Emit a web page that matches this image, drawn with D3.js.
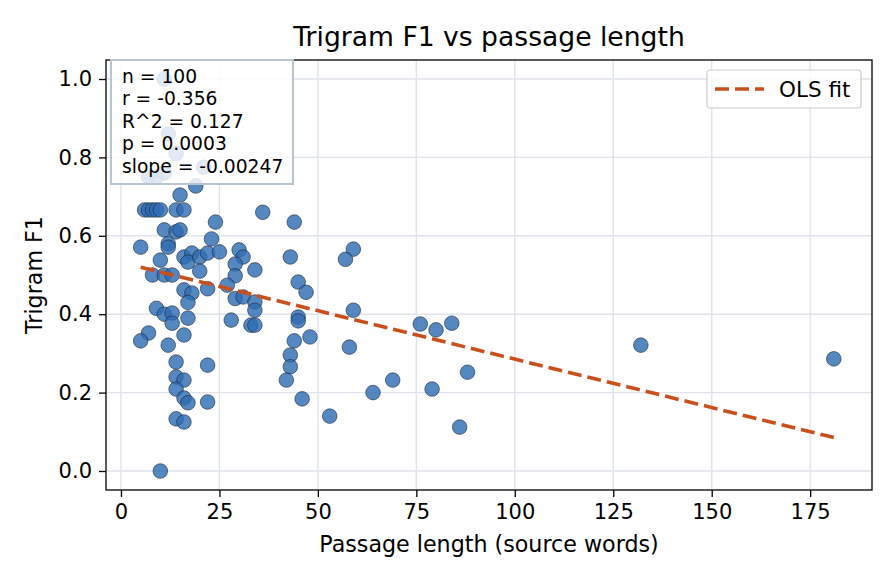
<!DOCTYPE html>
<html>
<head>
<meta charset="utf-8">
<script src="https://cdn.jsdelivr.net/npm/d3@7"></script>
<style>
  body { margin: 0; background: #fff; }
  svg { font-family: "DejaVu Sans", sans-serif; }
</style>
</head>
<body>
<script>
// passage length (source words) and trigram F1
var passageLen = [11, 12, 14, 21, 7, 9, 11, 19, 15,
    6, 7, 8, 9, 10, 14, 16, 36, 24, 44,
    11, 14, 15, 23, 5, 12, 12, 10, 16, 18,
    17, 20, 22, 25, 30, 31, 29, 29, 34, 43,
    20, 8, 11, 13, 16, 18, 22, 27, 29, 31,
    34, 34, 28, 33, 34, 9, 11, 13, 13, 17,
    17, 7, 5, 12, 16, 14, 22, 14, 16, 14,
    16, 17, 22, 14, 16, 10, 59, 57, 45, 47,
    45, 45, 59, 48, 44, 58, 43, 43, 42, 46,
    53, 64, 84, 80, 76, 88, 79, 69, 86, 132, 181];
var trigramF1 = [1.00, 0.86, 0.81, 0.775, 0.75, 0.75, 0.76, 0.727, 0.704,
    0.666, 0.666, 0.666, 0.666, 0.666, 0.666, 0.666, 0.66, 0.635, 0.635,
    0.615, 0.61, 0.615, 0.592, 0.571, 0.58, 0.571, 0.538, 0.546, 0.556,
    0.533, 0.546, 0.556, 0.559, 0.564, 0.546, 0.528, 0.498, 0.513, 0.546,
    0.51, 0.5, 0.5, 0.5, 0.462, 0.454, 0.465, 0.474, 0.44, 0.444,
    0.431, 0.41, 0.385, 0.372, 0.372, 0.415, 0.4, 0.403, 0.377, 0.39,
    0.43, 0.352, 0.332, 0.321, 0.347, 0.278, 0.27, 0.24, 0.232, 0.209,
    0.186, 0.174, 0.176, 0.133, 0.125, 0.0, 0.566, 0.54, 0.482, 0.456,
    0.393, 0.383, 0.41, 0.342, 0.332, 0.316, 0.296, 0.266, 0.232, 0.184,
    0.14, 0.2, 0.377, 0.36, 0.375, 0.252, 0.209, 0.232, 0.112, 0.321, 0.286];

var statLines = ["n = 100", "r = -0.356", "R^2 = 0.127", "p = 0.0003", "slope = -0.00247"];
var fitSlope = -0.00247;
var fitIntercept = 0.5324;

var xTicks = [0, 25, 50, 75, 100, 125, 150, 175];
var yTicks = [0.0, 0.2, 0.4, 0.6, 0.8, 1.0];

var points = passageLen.map(function(d, i) { return { x: d, y: trigramF1[i] }; });

var width = 896, height = 584;
var margin = { top: 60, right: 24, bottom: 94, left: 106 };
var innerW = width - margin.left - margin.right;
var innerH = height - margin.top - margin.bottom;

var svg = d3.select("body").append("svg")
    .attr("width", width)
    .attr("height", height);

var g = svg.append("g")
    .attr("transform", "translate(" + margin.left + "," + margin.top + ")");

var x = d3.scaleLinear().domain([-3.8, 190.7]).range([0, innerW]);
var y = d3.scaleLinear().domain([-0.0485, 1.0485]).range([innerH, 0]);

// grid
g.append("g").selectAll("line")
    .data(xTicks).enter().append("line")
    .attr("x1", function(d) { return x(d); })
    .attr("x2", function(d) { return x(d); })
    .attr("y1", 0).attr("y2", innerH)
    .attr("stroke", "#dfe4ec").attr("stroke-width", 1.4);

g.append("g").selectAll("line")
    .data(yTicks).enter().append("line")
    .attr("y1", function(d) { return y(d); })
    .attr("y2", function(d) { return y(d); })
    .attr("x1", 0).attr("x2", innerW)
    .attr("stroke", "#dfe4ec").attr("stroke-width", 1.4);

// points
g.append("g").selectAll("circle")
    .data(points).enter().append("circle")
    .attr("cx", function(d) { return x(d.x); })
    .attr("cy", function(d) { return y(d.y); })
    .attr("r", 7.3)
    .attr("fill", "#2f6db3")
    .attr("fill-opacity", 0.82)
    .attr("stroke", "#1b2735")
    .attr("stroke-width", 0.6);

// OLS line
var xExt = d3.extent(passageLen);
g.append("line")
    .attr("x1", x(xExt[0])).attr("y1", y(fitIntercept + fitSlope * xExt[0]))
    .attr("x2", x(xExt[1])).attr("y2", y(fitIntercept + fitSlope * xExt[1]))
    .attr("stroke", "#c9501c")
    .attr("stroke-width", 3.6)
    .attr("stroke-dasharray", "14,6");

// axes
var xAxis = d3.axisBottom(x).tickValues(xTicks).tickSize(7).tickPadding(7).tickFormat(d3.format("d"));
var yAxis = d3.axisLeft(y).tickValues(yTicks).tickSize(7).tickPadding(7).tickFormat(d3.format(".1f"));

var gx = g.append("g").attr("transform", "translate(0," + innerH + ")").call(xAxis);
var gy = g.append("g").call(yAxis);
[gx, gy].forEach(function(a) {
    a.select(".domain").remove();
    a.selectAll("line").attr("stroke", "#000").attr("stroke-width", 1.3);
    a.selectAll("text").attr("font-size", 21).attr("fill", "#000")
        .attr("font-family", "DejaVu Sans");
});

// spines
g.append("rect")
    .attr("width", innerW).attr("height", innerH)
    .attr("fill", "none").attr("stroke", "#000").attr("stroke-width", 1.3);

// stats box
var box = g.append("g").attr("transform", "translate(5,0)");
box.append("rect")
    .attr("width", 182).attr("height", 124)
    .attr("fill", "#fff").attr("fill-opacity", 0.82)
    .attr("stroke", "#b8c4d2").attr("stroke-width", 2);
box.selectAll("text")
    .data(statLines).enter().append("text")
    .attr("x", 11)
    .attr("y", function(d, i) { return 23 + i * 22.4; })
    .attr("font-size", 18.7)
    .text(function(d) { return d; });

// legend
var leg = g.append("g").attr("transform", "translate(" + (innerW - 165) + ",10)");
leg.append("rect")
    .attr("width", 154).attr("height", 38).attr("rx", 3)
    .attr("fill", "#fff").attr("fill-opacity", 0.8)
    .attr("stroke", "#cccccc").attr("stroke-width", 1.2);
leg.append("line")
    .attr("x1", 8).attr("x2", 57).attr("y1", 19).attr("y2", 19)
    .attr("stroke", "#c9501c").attr("stroke-width", 3.6)
    .attr("stroke-dasharray", "14,6");
leg.append("text")
    .attr("x", 72).attr("y", 26.5)
    .attr("font-size", 21.5)
    .text("OLS fit");

// title and labels
svg.append("text")
    .attr("x", margin.left + innerW / 2).attr("y", 46)
    .attr("text-anchor", "middle")
    .attr("font-size", 26.6)
    .text("Trigram F1 vs passage length");

svg.append("text")
    .attr("x", margin.left + innerW / 2).attr("y", 552)
    .attr("text-anchor", "middle")
    .attr("font-size", 22.2)
    .text("Passage length (source words)");

svg.append("text")
    .attr("transform", "translate(42," + (margin.top + innerH / 2) + ") rotate(-90)")
    .attr("text-anchor", "middle")
    .attr("font-size", 22.2)
    .text("Trigram F1");
</script>
</body>
</html>
